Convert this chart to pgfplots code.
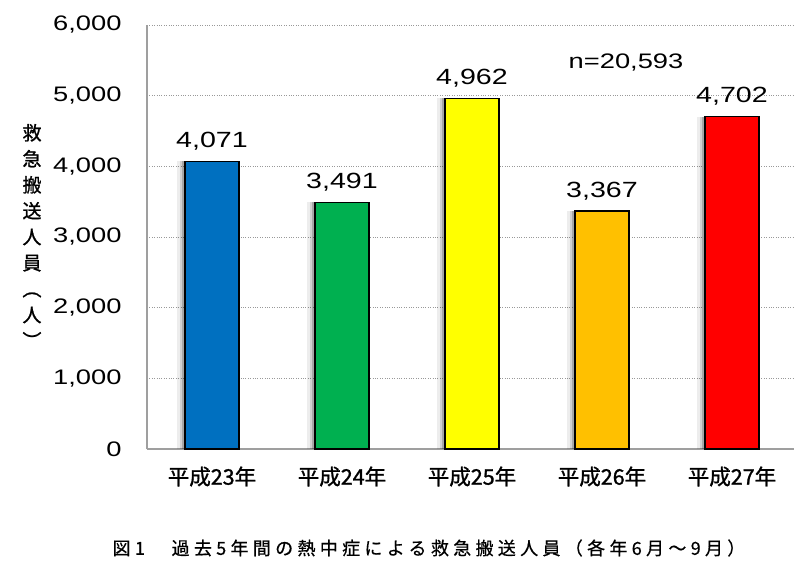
\documentclass[border=0pt]{standalone}
\usepackage{pgfplots}
\pgfplotsset{compat=1.18}
\usepackage{fontspec}
\setmainfont{Liberation Sans}
\newfontfamily\numfont{Liberation Sans}[FakeStretch=1.3]
\newfontfamily\cjk{Noto Sans CJK JP}[FakeBold=1.2]
\newfontfamily\cjkcap{Noto Sans CJK JP}[LetterSpace=24, FakeBold=0.6]

\definecolor{barblue}{RGB}{0,112,192}
\definecolor{bargreen}{RGB}{0,176,80}
\definecolor{baryellow}{RGB}{255,255,0}
\definecolor{barorange}{RGB}{255,192,0}
\definecolor{barred}{RGB}{255,0,0}

% solid bar with black outline and a soft shadow to its left
\tikzset{
  heatbar/.style={ybar, bar width=54pt, fill=#1, draw=black, line width=1.3pt,
    preaction={fill=black, draw=none, opacity=0.07, transform canvas={xshift=-8pt}},
    preaction={fill=black, draw=none, opacity=0.12, transform canvas={xshift=-5pt}},
    preaction={fill=black, draw=none, opacity=0.2, transform canvas={xshift=-3pt}}}
}

\begin{document}
\begin{tikzpicture}
\useasboundingbox (0,0) rectangle (794pt,563pt);
\begin{axis}[
  at={(147pt,114pt)}, anchor=south west,
  scale only axis, width=650pt, height=424pt,
  xmin=-0.5, xmax=4.5, ymin=0, ymax=6000,
  axis x line*=bottom, axis y line*=left,
  axis line style={-, draw=gray!75, line width=1.2pt},
  xtick={0,1,2,3,4},
  xticklabels={平成23年,平成24年,平成25年,平成26年,平成27年},
  xticklabel style={font=\cjk\fontsize{21.5}{21.5}\selectfont, yshift=-14pt},
  ytick={0,1000,2000,3000,4000,5000,6000},
  yticklabel style={font=\numfont\fontsize{21}{21}\selectfont, xshift=-22pt},
  major tick length=0pt,
  ymajorgrids, grid style={dotted, gray!80, line width=0.9pt},
  /pgf/number format/1000 sep={,},
  /pgf/number format/assume math mode=true,
  clip=false,
  nodes near coords,
  nodes near coords style={font=\numfont\fontsize{22}{22}\selectfont, text=black, yshift=7pt},
]
\addplot[heatbar=barblue]   coordinates {(0,4071)};
\addplot[heatbar=bargreen]  coordinates {(1,3491)};
\addplot[heatbar=baryellow] coordinates {(2,4962)};
\addplot[heatbar=barorange] coordinates {(3,3367)};
\addplot[heatbar=barred]    coordinates {(4,4702)};
\node[font=\numfont\fontsize{21}{21}\selectfont] at (axis cs:3.185,5476) {n=20,593};
\end{axis}
% vertical axis title
\node[font=\cjk\fontsize{19}{26}\selectfont, align=center, inner sep=0pt]
  at (32pt,327pt) {救\\急\\搬\\送\\人\\員\\︵\\人\\︶};
% figure caption
\node[font=\cjkcap\fontsize{18}{18}\selectfont, inner sep=0pt]
  at (429pt,15pt) {図1　過去5年間の熱中症による救急搬送人員（各年6月～9月）};
\end{tikzpicture}
\end{document}
